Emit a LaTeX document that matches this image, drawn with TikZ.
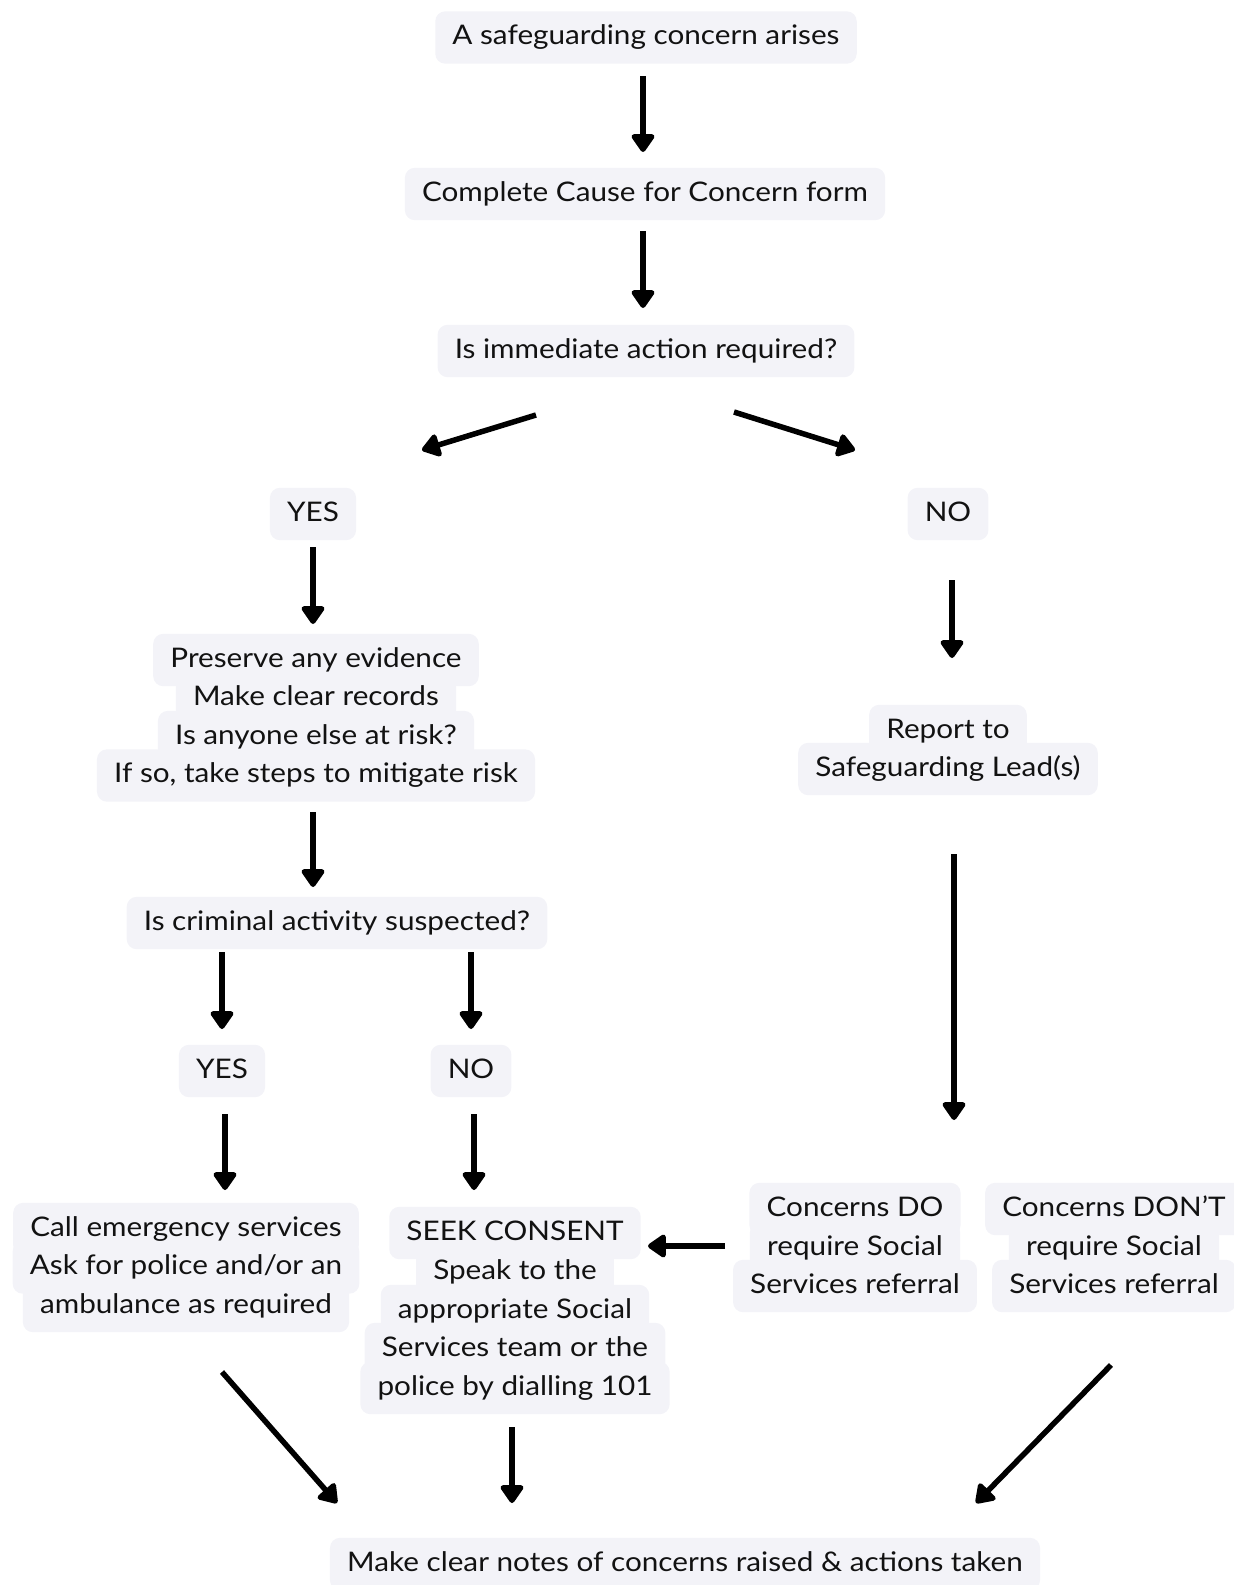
\documentclass[tikz,border=0pt]{standalone}
\usepackage{fontspec}
\setmainfont[FakeStretch=1.1]{Lato}
\usetikzlibrary{arrows.meta,fit,backgrounds}
\definecolor{boxbg}{RGB}{243,243,248}
\definecolor{ink}{RGB}{18,18,18}
\tikzset{
  txt/.style={font=\fontsize{27}{38}\selectfont, text=ink, inner sep=0pt, text height=20pt, text depth=6pt},
  bgline/.style={fill=boxbg, rounded corners=10pt, inner xsep=17pt, inner ysep=13pt, draw=none},
  arr/.style={line width=5.5pt, draw=black, -{Triangle[width=26pt,length=20pt,round]}},
}
\newcommand\tline[3]{%
  \node[txt] (#1) at (#2) {#3};
  \begin{scope}[on background layer]\node[bgline, fit=(#1)] (#1-bg) {};\end{scope}
}
\begin{document}
\begin{tikzpicture}[x=1pt,y=-1pt]
\path[use as bounding box] (0,0) rectangle (1234,1585);

% boxes
\tline{start}{646,37.5}{A safeguarding concern arises}
\tline{form}{645,194}{Complete Cause for Concern form}
\tline{immed}{646,351}{Is immediate action required?}
\tline{yesA}{313,514}{YES}
\tline{noA}{948,514}{NO}
\tline{pres1}{316,660}{Preserve any evidence}
\tline{pres2}{316,698.5}{Make clear records}
\tline{pres3}{316,737}{Is anyone else at risk?}
\tline{pres4}{316,775.5}{If so, take steps to mitigate risk}
\tline{rep1}{948,731}{Report to}
\tline{rep2}{948,769}{Safeguarding Lead(s)}
\tline{crim}{337,923}{Is criminal activity suspected?}
\tline{yesB}{222,1071}{YES}
\tline{noB}{471,1071}{NO}
\tline{call1}{186,1229}{Call emergency services}
\tline{call2}{186,1267.5}{Ask for police and/or an}
\tline{call3}{186,1306}{ambulance as required}
\tline{seek1}{515,1233}{SEEK CONSENT}
\tline{seek2}{515,1272}{Speak to the}
\tline{seek3}{515,1311}{appropriate Social}
\tline{seek4}{515,1349}{Services team or the}
\tline{seek5}{515,1388}{police by dialling 101}
\tline{do1}{855,1209}{Concerns DO}
\tline{do2}{855,1248}{require Social}
\tline{do3}{855,1286}{Services referral}
\tline{dont1}{1114,1209}{Concerns DON’T}
\tline{dont2}{1114,1248}{require Social}
\tline{dont3}{1114,1286}{Services referral}
\tline{notes}{685,1564}{Make clear notes of concerns raised \& actions taken}

% arrow end points
\coordinate (a1s) at (643,76);   \coordinate (a1e) at (643,152);
\coordinate (a2s) at (643,231);  \coordinate (a2e) at (643,308);
\coordinate (a3s) at (536,415);  \coordinate (a3e) at (422,450);
\coordinate (a4s) at (734,412);  \coordinate (a4e) at (855,450);
\coordinate (a5s) at (313,547);  \coordinate (a5e) at (313,624);
\coordinate (a6s) at (952,580);  \coordinate (a6e) at (952,658);
\coordinate (a7s) at (313,812);  \coordinate (a7e) at (313,887);
\coordinate (a8s) at (954,854);  \coordinate (a8e) at (954,1120);
\coordinate (a9s) at (222,952);  \coordinate (a9e) at (222,1029);
\coordinate (a10s) at (471,952); \coordinate (a10e) at (471,1029);
\coordinate (a11s) at (225,1114);\coordinate (a11e) at (225,1190);
\coordinate (a12s) at (474,1114);\coordinate (a12e) at (474,1190);
\coordinate (a13s) at (725,1246);\coordinate (a13e) at (648,1246);
\coordinate (a14s) at (222,1372);\coordinate (a14e) at (337,1503);
\coordinate (a15s) at (512,1427);\coordinate (a15e) at (512,1503);
\coordinate (a16s) at (1111,1365);\coordinate (a16e) at (976,1503);

\foreach \i in {1,...,16} \draw[arr] (a\i s) -- (a\i e);
\end{tikzpicture}
\end{document}
